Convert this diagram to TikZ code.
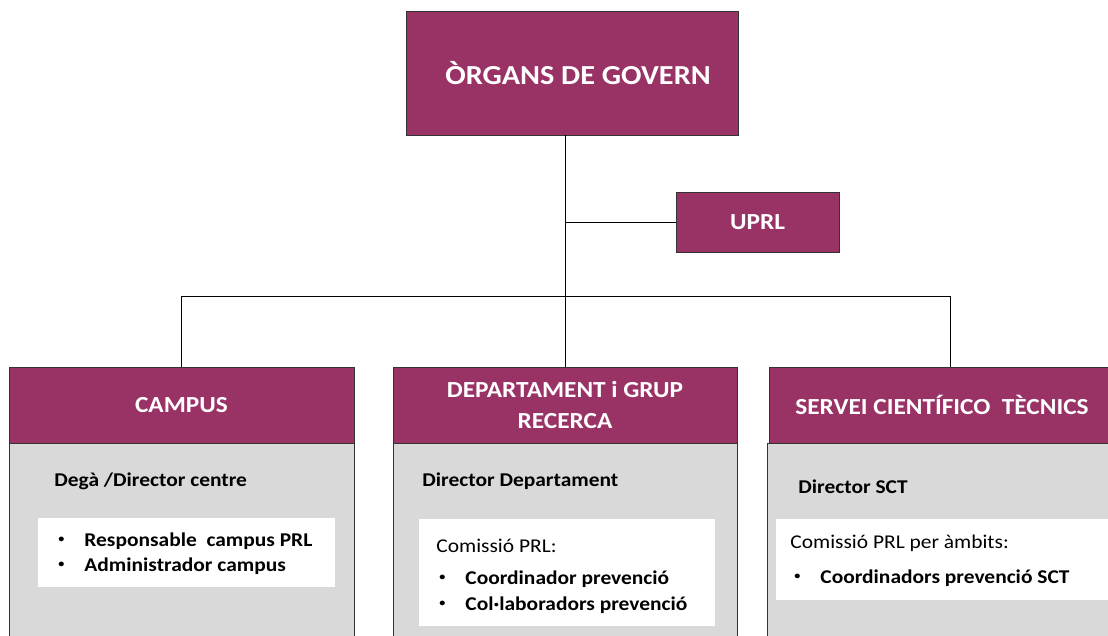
\documentclass[tikz,border=0pt]{standalone}
\usepackage{fontspec}
\setmainfont{Carlito}[FakeStretch=1.1]
\definecolor{grana}{RGB}{153,51,102}
\definecolor{gris}{RGB}{217,217,217}
\newcommand{\punt}{\llap{\makebox[26pt][l]{\raisebox{0.2em}{\fontsize{11}{11}\selectfont\textbullet}}}}

\begin{document}
\begin{tikzpicture}[x=1pt,y=-1pt,line width=0.8pt,
  organ/.style={draw=black!80,fill=grana,text=white,align=center,inner sep=0pt,
    font=\fontsize{23}{31}\selectfont\bfseries},
  cos/.style={draw=black!80,fill=gris,anchor=north west,inner sep=0pt},
  llista/.style={fill=white,anchor=north west,inner sep=0pt},
  txt/.style={anchor=west,inner sep=0pt,font=\fontsize{19.5}{22}\selectfont},
  negre/.style={txt,font=\fontsize{19.5}{22}\selectfont\bfseries}]
  \clip (0,0) rectangle (1108,636);
  \node[organ,minimum width=332,minimum height=124,font=\fontsize{27.5}{30}\selectfont\bfseries] (govern) at (572,73) {\hspace{12pt}ÒRGANS DE GOVERN};
  \node[organ,minimum width=163,minimum height=60] (uprl) at (757.5,222) {UPRL};

  \node[cos,minimum width=345,minimum height=220] (coscampus) at (9,443) {};
  \node[cos,minimum width=344,minimum height=220] (cosdept) at (393,443) {};
  \node[cos,minimum width=345,minimum height=220] (cossct) at (767,443) {};
  \node[organ,minimum width=345,minimum height=76] (campus) at (181.5,405) {CAMPUS};
  \node[organ,minimum width=344,minimum height=76] (dept) at (565,405) {DEPARTAMENT i GRUP\\RECERCA};
  \node[organ,minimum width=345,minimum height=76] (sct) at (942,405) {SERVEI CIENTÍFICO\ \ TÈCNICS};

  \node[llista,minimum width=297,minimum height=69] (llcampus) at (38,518) {};
  \node[llista,minimum width=296,minimum height=107] (lldept) at (419,519) {};
  \node[llista,minimum width=334,minimum height=81] (llsct) at (776,519) {};

  \node[negre] (dega) at (54,481) {Degà\ /Director centre};
  \node[negre] (resp) at (84,541) {\punt Responsable\ \ campus PRL};
  \node[negre] (admin) at (84,566) {\punt Administrador campus};

  \node[negre] (dirdept) at (422,481) {Director Departament};
  \node[txt] (comdept) at (436,546) {Comissió\ PRL:};
  \node[negre] (coord) at (465,579) {\punt Coordinador prevenció};
  \node[negre] (colab) at (465,605) {\punt Col·laboradors\ prevenció};

  \node[negre] (dirsct) at (798,487) {Director SCT};
  \node[txt] (comsct) at (790,543) {Comissió PRL per àmbits:};
  \node[negre] (coordsct) at (820,578) {\punt Coordinadors prevenció SCT};

  \coordinate (eix) at (565,296);
  \coordinate (barra) at (950,296);
  \draw (govern.south -| eix) -- (dept.north);
  \draw (uprl.west -| eix) -- (uprl.west);
  \draw (campus.north) |- (barra) -- (barra |- sct.north);
\end{tikzpicture}
\end{document}
